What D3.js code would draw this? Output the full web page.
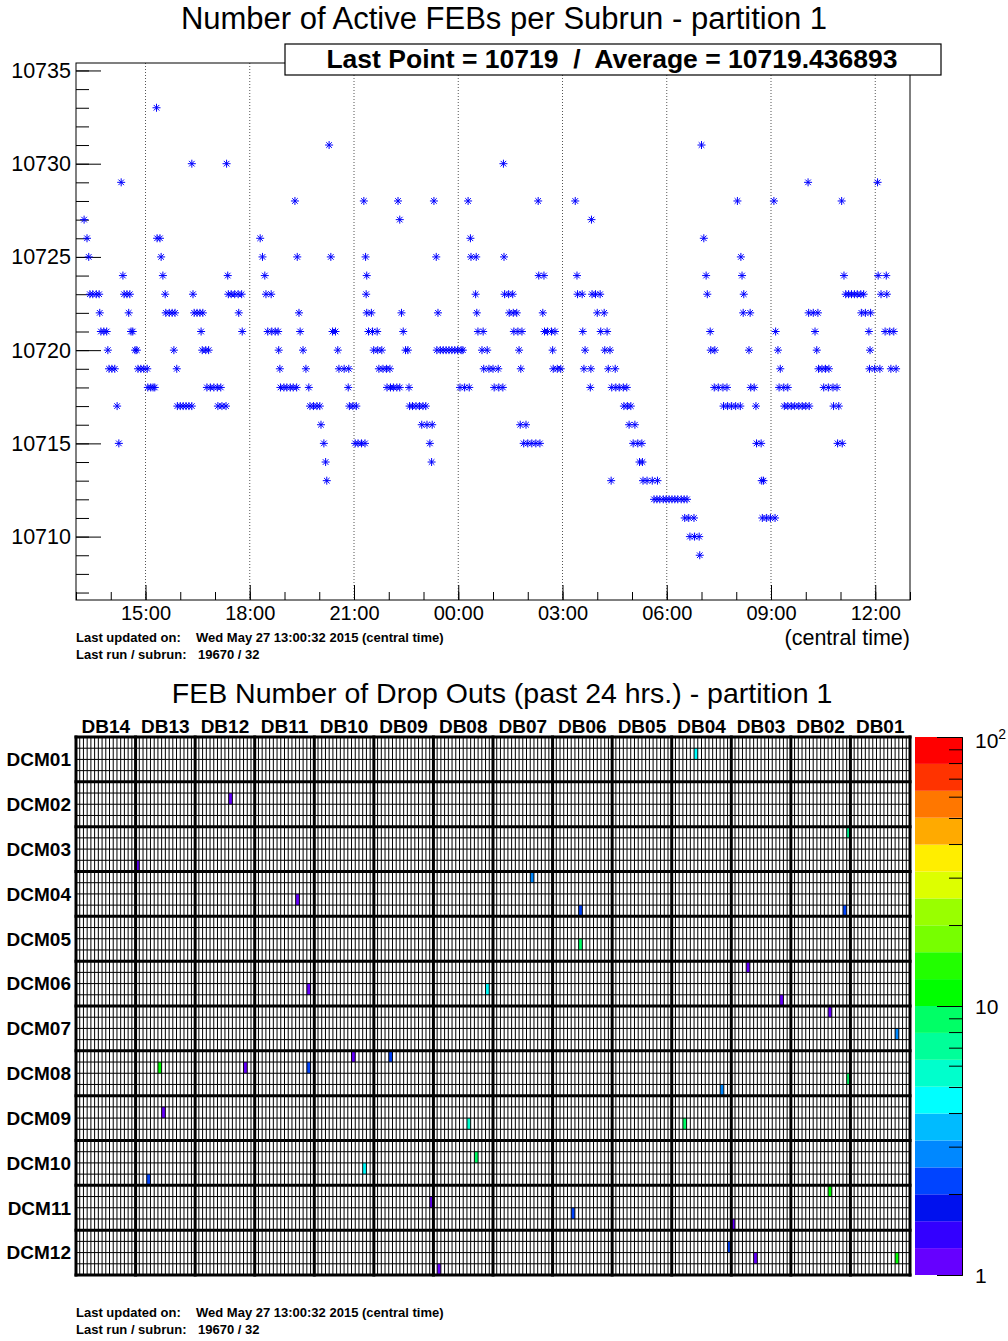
<!DOCTYPE html>
<html>
<head>
<meta charset="utf-8">
<script src="https://cdn.jsdelivr.net/npm/d3@7"></script>
<style>
  body { margin: 0; background: #fff; }
  svg { display: block; font-family: "Liberation Sans", Arial, Helvetica, sans-serif; }
</style>
</head>
<body>
<svg id="chart" width="1008" height="1341"></svg>
<script>
// ---- Active FEBs per subrun (clock time, central) ----
const subrunTimes = [
  "13:14","13:19","13:22","13:24","13:29","13:35","13:40","13:41","13:43","13:48","13:53","13:55","13:57","14:02","14:07","14:11","14:14",
  "14:18","14:21","14:23","14:28","14:33","14:31","14:35","14:38","14:42","14:45","14:47","14:52","14:57","15:03","15:04","15:09","15:13","15:16",
  "15:19","15:20","15:25","15:27","15:30","15:34","15:35","15:41","15:46","15:51","15:49","15:54","15:55","16:00","16:05","16:10","16:15","16:20",
  "16:20","16:22","16:24","16:29","16:34","16:39","16:36","16:38","16:44","16:49","16:46","16:52","16:58","17:04","17:10","17:05","17:12","17:19",
  "17:20","17:22","17:23","17:28","17:34","17:40","17:46","17:41","17:47",
  "18:18","18:22","18:26","18:28","18:37","18:31","18:38","18:44","18:49","18:50","18:52","18:53","18:59","19:04","19:10","19:15","19:21",
  "19:18","19:22","19:25","19:27","19:32","19:37","19:42","19:44","19:50","19:56","20:01","20:03","20:08","20:11","20:13",
  "20:17","20:20","20:23","20:28","20:32","20:34","20:43","20:51","20:50","20:52","20:58","21:04","21:02","21:07","21:13","21:19",
  "21:17","21:20","21:22","21:21","21:22","21:30","21:25","21:32","21:40","21:34","21:41","21:48","21:43","21:50","21:56","22:02","21:57","22:03","22:08","22:14","22:19",
  "22:16","22:19","22:22","22:25","22:29","22:33","22:35","22:36","22:41","22:47","22:53","22:59","23:04","22:57","23:06","23:15","23:11","23:14",
  "23:18","23:22","23:25","23:23","23:29","23:34","23:39","23:44","23:49","23:54","23:59","00:05","00:08","00:03","00:11","00:19",
  "00:17","00:21","00:22","00:31","00:30","00:32","00:34","00:43","00:41","00:50","00:44","00:53","01:00","01:09","01:02","01:10","01:17",
  "01:18","01:19","01:20","01:27","01:34","01:28","01:35","01:41","01:36","01:43","01:50","01:45","01:48","01:47","01:57","01:53","02:00","02:07","02:14","02:21",
  "02:18","02:19","02:28","02:26","02:29","02:34","02:41","02:47","02:43","02:44","02:51","02:57",
  "03:22","03:25","03:26","03:34","03:35","03:39","03:37","03:49","03:48",
  "03:50","03:51","03:57","04:05","04:00","04:12","04:06","04:17","04:13","04:22","04:19","04:31","04:24","04:25","04:32","04:38","04:45","04:51",
  "04:46","04:52","04:58","04:55","05:05","05:02","05:10","05:17","05:13","05:18","05:19","05:26","05:35","05:44",
  "05:38","05:43","05:48","05:54","05:59","06:04","06:09","06:14","06:19","06:25","06:30","06:35","06:31","06:38","06:47","06:40","06:48","06:56","06:57",
  "07:00","07:04","07:08","07:10","07:15","07:16","07:23","07:22","07:29","07:37","07:44","07:38","07:45","07:52","07:59","08:07",
  "08:02","08:08","08:10","08:13","08:12","08:24","08:22","08:25","08:31","08:34","08:35","08:43","08:44","08:47","08:45","08:52","08:59","09:07",
  "09:05","09:08","09:12","09:16","09:14","09:22","09:29","09:23","09:29","09:35","09:41","09:48","09:54","10:00","10:06",
  "10:04","10:05","10:13","10:21","10:16","10:19","10:22","10:28","10:34","10:40","10:31","10:39","10:47","10:54","10:48","10:57","10:55","11:03",
  "11:02","11:06","11:09","11:14","11:19","11:24","11:29","11:35","11:40","11:36","11:43","11:52","11:49","11:51","11:50","11:59","12:08",
  "12:04","12:05","12:19","12:10","12:20","12:17","12:25","12:32","12:27","12:36"
];
const activeFEBs = [
  10727,10726,10725,10723,10723,10723,10723,10722,10721,10721,10721,10720,10719,10719,10719,10717,10715,
  10729,10724,10723,10723,10723,10722,10721,10721,10720,10720,10719,10719,10719,10719,10718,10718,10718,10718,
  10733,10726,10726,10725,10724,10723,10722,10722,10722,10722,10720,10719,10717,10717,10717,10717,10717,10717,
  10730,10723,10722,10722,10722,10722,10721,10720,10720,10720,10718,10718,10718,10718,10718,10717,10717,10717,
  10730,10724,10723,10723,10723,10723,10723,10722,10721,
  10726,10725,10724,10723,10723,10721,10721,10721,10721,10720,10719,10718,10718,10718,10718,10718,10718,
  10728,10725,10722,10721,10720,10719,10718,10717,10717,10717,10717,10716,10715,10714,10713,
  10731,10725,10721,10721,10720,10719,10719,10719,10718,10717,10717,10717,10715,10715,10715,10715,
  10728,10725,10724,10723,10722,10722,10721,10721,10721,10720,10720,10720,10719,10719,10719,10719,10718,10718,10718,10718,10718,
  10728,10727,10722,10721,10720,10720,10718,10717,10717,10717,10717,10717,10717,10716,10716,10716,10715,10714,
  10728,10725,10722,10720,10720,10720,10720,10720,10720,10720,10720,10720,10720,10718,10718,10718,
  10728,10726,10725,10725,10723,10722,10721,10721,10720,10720,10719,10719,10719,10719,10718,10718,10718,
  10730,10725,10723,10723,10723,10722,10722,10722,10721,10721,10721,10720,10719,10716,10716,10715,10715,10715,10715,10715,
  10728,10724,10724,10722,10721,10721,10721,10721,10720,10719,10719,10719,
  10728,10724,10723,10723,10721,10720,10719,10719,10718,
  10727,10723,10723,10723,10722,10722,10721,10721,10720,10720,10719,10719,10713,10718,10718,10718,10718,10718,
  10717,10717,10717,10716,10716,10715,10715,10715,10714,10714,10713,10713,10713,10713,
  10712,10712,10712,10712,10712,10712,10712,10712,10712,10712,10712,10712,10711,10711,10711,10710,10710,10710,10709,
  10731,10726,10724,10723,10721,10720,10720,10718,10718,10718,10718,10717,10717,10717,10717,10717,
  10728,10725,10724,10723,10722,10722,10720,10718,10718,10717,10715,10715,10713,10713,10711,10711,10711,10711,
  10728,10721,10720,10719,10718,10718,10718,10717,10717,10717,10717,10717,10717,10717,10717,
  10729,10722,10722,10722,10721,10720,10719,10719,10719,10719,10718,10718,10718,10718,10717,10717,10715,10715,
  10728,10724,10723,10723,10723,10723,10723,10723,10723,10722,10722,10722,10721,10720,10719,10719,10719,
  10729,10724,10724,10723,10723,10721,10721,10721,10719,10719
];
const febTicks = [10710, 10715, 10720, 10725, 10730, 10735];
const averageLabel = "10719.436893";
const lastUpdated = "Wed May 27 13:00:32 2015 (central time)";
const lastRunSubrun = "19670 / 32";

// ---- FEB drop-out map ----
const dbLabels = ["DB14","DB13","DB12","DB11","DB10","DB09","DB08","DB07","DB06","DB05","DB04","DB03","DB02","DB01"];
const dcmLabels = ["DCM01","DCM02","DCM03","DCM04","DCM05","DCM06","DCM07","DCM08","DCM09","DCM10","DCM11","DCM12"];
const dropDB    = ["DB04","DB12","DB13","DB02","DB07","DB11","DB06","DB02","DB06","DB03","DB08","DB11","DB03","DB02","DB01","DB13","DB12","DB11",
                   "DB10","DB09","DB02","DB04","DB13","DB08","DB04","DB10","DB08","DB13","DB02","DB09","DB06","DB03","DB04","DB03","DB01","DB08"];
const dropDCM   = ["DCM01","DCM02","DCM03","DCM03","DCM04","DCM04","DCM04","DCM04","DCM05","DCM06","DCM06","DCM06","DCM06","DCM07","DCM07","DCM08","DCM08","DCM08",
                   "DCM08","DCM08","DCM08","DCM08","DCM09","DCM09","DCM09","DCM10","DCM10","DCM10","DCM11","DCM11","DCM11","DCM11","DCM12","DCM12","DCM12","DCM12"];
const dropCol   = [6,9,0,15,10,11,7,14,7,4,14,14,13,10,12,6,13,14, 10,4,15,13,7,9,3,13,11,3,10,15,5,0,15,6,12,1];
const dropRow   = [1,1,3,0,0,2,3,3,2,0,2,2,3,0,2,1,1,1, 0,0,2,3,1,2,2,2,1,3,0,1,2,3,1,2,2,3];
const dropCount = [4,1,1,7,3,1,2,2,8,1,4,1,1,1,3,10,1,2, 1,2,8,3,1,6,8,4,8,2,10,1,2,1,2,1,10,1];
const febCols = 16, febRows = 4;
const paletteColors = ["#6600ff","#3300ff","#0011ee","#0044ff","#0088ff","#00bbff","#00ffff","#00ffcc","#00ff99","#00ff66",
                       "#00ff00","#22ff00","#77ff00","#99ff00","#ddff00","#ffee00","#ffaa00","#ff7700","#ff3300","#ff0000"];

const svg = d3.select("#chart");

// ================= Top panel: active FEBs vs time =================
const P = { left: 76, right: 910, top: 63, bottom: 600 };
const parseT = d3.timeParse("%Y-%m-%d %H:%M");
const toDate = hm => parseT(`2015-05-${+hm.slice(0, 2) >= 13 ? 26 : 27} ${hm}`);
const points = subrunTimes.map((t, i) => ({ t: toDate(t), v: activeFEBs[i] }));

const x = d3.scaleTime()
  .domain([parseT("2015-05-26 13:00"), parseT("2015-05-27 13:00")])
  .range([P.left, P.right]);
const y = d3.scaleLinear().domain([10706.6, 10735.4]).range([P.bottom, P.top]);

svg.append("text").attr("x", 504).attr("y", 29).attr("text-anchor", "middle")
  .style("font-size", "31px").text("Number of Active FEBs per Subrun - partition 1");

// vertical grid at major time ticks
const majorHours = x.ticks(d3.timeHour.every(3));
svg.append("g").selectAll("line").data(majorHours).join("line")
  .attr("x1", d => x(d)).attr("x2", d => x(d))
  .attr("y1", P.top).attr("y2", P.bottom)
  .attr("stroke", "#555").attr("stroke-width", 1).attr("stroke-dasharray", "1,2");

// axes (ticks point into the frame)
const yMajor = d3.axisLeft(y).tickValues(febTicks).tickSize(-25).tickPadding(5).tickFormat(d3.format("d"));
const yMinor = d3.axisLeft(y).tickValues(d3.range(10707, 10736)).tickSize(-13).tickFormat("");
const gyMin = svg.append("g").attr("transform", `translate(${P.left},0)`).call(yMinor);
const gy = svg.append("g").attr("transform", `translate(${P.left},0)`).call(yMajor);
const xMajor = d3.axisBottom(x).ticks(d3.timeHour.every(3)).tickSize(-15).tickPadding(6).tickFormat(d3.timeFormat("%H:%M"));
const xMinor = d3.axisBottom(x).ticks(d3.timeHour.every(1)).tickSize(-8).tickFormat("");
const gxMin = svg.append("g").attr("transform", `translate(0,${P.bottom})`).call(xMinor);
const gx = svg.append("g").attr("transform", `translate(0,${P.bottom})`).call(xMajor);
[gy, gyMin, gx, gxMin].forEach(g => {
  g.select(".domain").remove();
  g.selectAll(".tick line").attr("stroke", "#000").attr("stroke-width", 1);
  g.selectAll("text").style("font-family", "'Liberation Sans', Arial, sans-serif").attr("fill", "#000");
});
gy.selectAll("text").style("font-size", "21.5px");
gx.selectAll("text").style("font-size", "20px");

// points (asterisk markers)
const star = "M-4,0H4M0,-4V4M-2.8,-2.8L2.8,2.8M-2.8,2.8L2.8,-2.8";
svg.append("g").selectAll("path").data(points).join("path")
  .attr("transform", d => `translate(${x(d.t)},${y(d.v)})`)
  .attr("d", star).attr("fill", "none").attr("stroke", "#0000ff").attr("stroke-width", 1);

svg.append("rect").attr("x", P.left).attr("y", P.top)
  .attr("width", P.right - P.left).attr("height", P.bottom - P.top)
  .attr("fill", "none").attr("stroke", "#000").attr("stroke-width", 1);

// statistics box
const lastPoint = points.slice().sort((a, b) => a.t - b.t)[points.length - 1];
svg.append("rect").attr("x", 285).attr("y", 44).attr("width", 656).attr("height", 31)
  .attr("fill", "#fff").attr("stroke", "#000").attr("stroke-width", 1.2);
svg.append("text").attr("x", 612).attr("y", 68).attr("text-anchor", "middle")
  .style("font-size", "26.5px").style("font-weight", "bold").style("white-space", "pre")
  .text(`Last Point = ${lastPoint.v}  /  Average = ${averageLabel}`);

svg.append("text").attr("x", P.right).attr("y", 645).attr("text-anchor", "end")
  .style("font-size", "21.5px").text("(central time)");

function footer(y0) {
  const g = svg.append("g").style("font-size", "13px").style("font-weight", "bold");
  g.append("text").attr("x", 76).attr("y", y0).text("Last updated on:");
  g.append("text").attr("x", 196).attr("y", y0).text(lastUpdated);
  g.append("text").attr("x", 76).attr("y", y0 + 17).text("Last run / subrun:");
  g.append("text").attr("x", 198).attr("y", y0 + 17).text(lastRunSubrun);
}
footer(642);

// ================= Bottom panel: FEB drop-out map =================
const H = { left: 76, right: 910, top: 737, bottom: 1275 };
const nCols = dbLabels.length * febCols, nRows = dcmLabels.length * febRows;
const hx = d3.scaleLinear().domain([0, nCols]).range([H.left, H.right]);
const hy = d3.scaleLinear().domain([0, nRows]).range([H.top, H.bottom]);
const zPos = d3.scaleLog().domain([1, 100]).range([H.bottom, H.top]);
const zColor = d3.scaleQuantize().domain([0, 2]).range(paletteColors);

svg.append("text").attr("x", 502).attr("y", 703).attr("text-anchor", "middle")
  .style("font-size", "28.5px").text("FEB Number of Drop Outs (past 24 hrs.) - partition 1");

const cells = dropDB.map((db, i) => ({
  c: dbLabels.indexOf(db) * febCols + dropCol[i],
  r: dcmLabels.indexOf(dropDCM[i]) * febRows + dropRow[i],
  n: dropCount[i]
}));
svg.append("g").selectAll("rect").data(cells).join("rect")
  .attr("x", d => hx(d.c)).attr("y", d => hy(d.r))
  .attr("width", d => hx(d.c + 1) - hx(d.c)).attr("height", d => hy(d.r + 1) - hy(d.r))
  .attr("fill", d => zColor(Math.log10(d.n)));

// fine grid, then board / DCM boundaries
const gGrid = svg.append("g");
gGrid.selectAll("line.v").data(d3.range(nCols + 1).filter(i => i % febCols)).join("line")
  .attr("x1", d => hx(d)).attr("x2", d => hx(d)).attr("y1", H.top).attr("y2", H.bottom)
  .attr("stroke", "#000").attr("stroke-width", 1);
gGrid.selectAll("line.h").data(d3.range(nRows + 1).filter(i => i % febRows)).join("line")
  .attr("y1", d => hy(d)).attr("y2", d => hy(d)).attr("x1", H.left).attr("x2", H.right)
  .attr("stroke", "#000").attr("stroke-width", 1);
gGrid.selectAll("line.vb").data(d3.range(0, nCols + 1, febCols)).join("line")
  .attr("x1", d => hx(d)).attr("x2", d => hx(d)).attr("y1", H.top - 1.5).attr("y2", H.bottom + 1.5)
  .attr("stroke", "#000").attr("stroke-width", 3);
gGrid.selectAll("line.hb").data(d3.range(0, nRows + 1, febRows)).join("line")
  .attr("y1", d => hy(d)).attr("y2", d => hy(d)).attr("x1", H.left - 1.5).attr("x2", H.right + 1.5)
  .attr("stroke", "#000").attr("stroke-width", 3);

svg.append("g").selectAll("text").data(dbLabels).join("text")
  .attr("x", (d, i) => hx((i + 0.5) * febCols)).attr("y", 733).attr("text-anchor", "middle")
  .style("font-size", "19px").style("font-weight", "bold").text(d => d);
svg.append("g").selectAll("text").data(dcmLabels).join("text")
  .attr("x", 71).attr("y", (d, i) => hy((i + 0.5) * febRows)).attr("dy", "0.36em").attr("text-anchor", "end")
  .style("font-size", "19px").style("font-weight", "bold").text(d => d);

// colour bar
const cb = { left: 915, right: 962 };
svg.append("g").selectAll("rect").data(paletteColors).join("rect")
  .attr("x", cb.left).attr("width", cb.right - cb.left)
  .attr("y", (d, i) => zPos(Math.pow(10, (i + 1) / 10)))
  .attr("height", (d, i) => zPos(Math.pow(10, i / 10)) - zPos(Math.pow(10, (i + 1) / 10)))
  .attr("fill", d => d);
const zMinorVals = d3.range(2, 10).concat(d3.range(20, 100, 10));
const gz = svg.append("g").attr("transform", `translate(${cb.right},0)`)
  .call(d3.axisLeft(zPos).tickValues(zMinorVals).tickSize(13).tickFormat(""));
const gz2 = svg.append("g").attr("transform", `translate(${cb.right},0)`)
  .call(d3.axisLeft(zPos).tickValues([1, 10, 100]).tickSize(25).tickFormat(""));
[gz, gz2].forEach(g => {
  g.select(".domain").attr("stroke", "#000").attr("stroke-width", 1);
  g.selectAll(".tick line").attr("stroke", "#000");
});
const zl = svg.append("g").style("font-size", "21px");
zl.append("text").attr("x", 975).attr("y", zPos(1)).attr("dy", "0.36em").text("1");
zl.append("text").attr("x", 975).attr("y", zPos(10)).attr("dy", "0.36em").text("10");
const t100 = zl.append("text").attr("x", 975).attr("y", zPos(100) + 11);
t100.append("tspan").text("10");
t100.append("tspan").attr("dy", -9).style("font-size", "14px").text("2");

footer(1317);
</script>
</body>
</html>
